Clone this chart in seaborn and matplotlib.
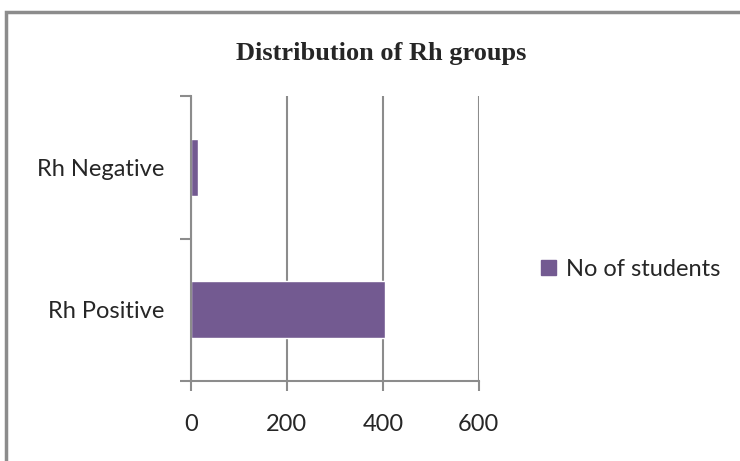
import matplotlib
matplotlib.use("Agg")
import matplotlib.pyplot as plt
import seaborn as sns
import pandas as pd
from matplotlib.patches import Rectangle, Patch

# data
groups = ["Rh Negative", "Rh Positive"]
students = [15, 405]
series_name = "No of students"
xticks = [0, 200, 400, 600]

bar_col = "#735A91"
grid_col = "#8C8C8C"

df = pd.DataFrame({"group": groups, "n": students})

sns.set_style("white")
plt.rcParams["font.family"] = ["Lato", "DejaVu Sans"]

fig = plt.figure(figsize=(7.4, 4.61), dpi=100)
ax = fig.add_axes([0.258, 0.1735, 0.389, 0.618])

sns.barplot(data=df, x="n", y="group", order=groups, color=bar_col,
            width=0.4, saturation=1, ax=ax, orient="h")

ax.set_xlim(0, 600)
ax.set_ylim(1.5, -0.5)
ax.set_xticks(xticks)
ax.set_xticklabels([str(t) for t in xticks], fontsize=17)
ax.tick_params(axis="x", bottom=True, length=7, width=1.5, color=grid_col, pad=17)
ax.set_yticks([-0.5, 0.5, 1.5], minor=True)
ax.tick_params(axis="y", which="major", left=False, length=0, labelsize=17, pad=19)
ax.tick_params(axis="y", which="minor", left=True, length=8, width=1.5, color=grid_col)
ax.set_xlabel("")
ax.set_ylabel("")

ax.grid(axis="x", color=grid_col, linewidth=1.5)
ax.set_axisbelow(True)
for s in ["top", "right"]:
    ax.spines[s].set_visible(False)
for s in ["left", "bottom"]:
    ax.spines[s].set_color(grid_col)
    ax.spines[s].set_linewidth(1.5)

fig.text(0.515, 0.885, "Distribution of Rh groups", ha="center", va="center",
         fontsize=19, fontweight="bold", family="Liberation Serif")

fig.legend(handles=[Patch(color=bar_col, label=series_name)],
           loc="center left", bbox_to_anchor=(0.703, 0.416), frameon=False,
           fontsize=17, handlelength=0.6, handleheight=0.6, handletextpad=0.45)

# outer frame (only left and top edges fall inside the image)
fig.patches.append(Rectangle((6 / 740, -0.1), 1.2, 1.1 - 12 / 461,
                             transform=fig.transFigure, fill=False,
                             edgecolor=grid_col, linewidth=2.5))

fig.savefig("out.png", dpi=100)
